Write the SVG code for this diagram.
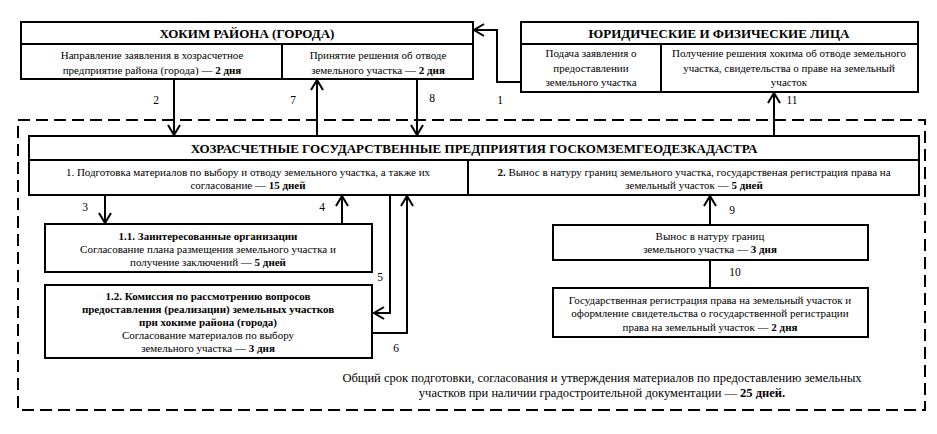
<svg xmlns="http://www.w3.org/2000/svg" width="937" height="434" viewBox="0 0 937 434">
<style>
text{font-family:"Liberation Serif","Times New Roman",serif;fill:#000;}
.h{font-size:13px;font-weight:bold;text-anchor:middle;}
.t{font-size:11px;text-anchor:middle;}
.n{font-size:11.5px;text-anchor:middle;}
.f{font-size:12.5px;text-anchor:middle;}
.b{font-weight:bold;}
.box{fill:#fff;stroke:#000;stroke-width:2;}
.ln{fill:none;stroke:#000;stroke-width:2;}
.c{fill:none;stroke:#000;stroke-width:2;}
</style>
<defs>
<marker id="a" markerUnits="userSpaceOnUse" markerWidth="14" markerHeight="14" viewBox="-12 -7 14 14" refX="0" refY="0" orient="auto">
<path d="M-10,-6 L0,0 L-10,6" fill="none" stroke="#000" stroke-width="2"/>
</marker>
</defs>
<rect width="937" height="434" fill="#fff"/>
<rect id="border" x="18" y="120" width="907" height="290" fill="none" stroke="#000" stroke-width="2" stroke-dasharray="12,6"/>
<g id="connectors">
<path class="c" d="M521,82 H497 V30 H474" marker-end="url(#a)"/>
<path class="c" d="M174,79 V135" marker-end="url(#a)"/>
<path class="c" d="M317,136 V80" marker-end="url(#a)"/>
<path class="c" d="M417,79 V135" marker-end="url(#a)"/>
<path class="c" d="M774,136 V93" marker-end="url(#a)"/>
<path class="c" d="M105,195 V223" marker-end="url(#a)"/>
<path class="c" d="M342,224 V196" marker-end="url(#a)"/>
<path class="c" d="M390,195 V313 H374" marker-end="url(#a)"/>
<path class="c" d="M373,333 H407 V196" marker-end="url(#a)"/>
<path class="c" d="M710,225 V196" marker-end="url(#a)"/>
<path class="c" d="M710,260 V288"/>
<text class="n" x="156" y="104">2</text>
<text class="n" x="293" y="104">7</text>
<text class="n" x="432" y="102">8</text>
<text class="n" x="500" y="104">1</text>
<text class="n" x="792" y="104">11</text>
<text class="n" x="85" y="211">3</text>
<text class="n" x="322" y="211">4</text>
<text class="n" x="380" y="281">5</text>
<text class="n" x="396" y="352">6</text>
<text class="n" x="732" y="214">9</text>
<text class="n" x="735" y="276">10</text>
</g>
<g id="hokim">
<rect class="box" x="21" y="22" width="452" height="57"/>
<line class="ln" x1="21" y1="44" x2="473" y2="44"/>
<line class="ln" x1="282" y1="44" x2="282" y2="79"/>
<text class="h" x="247" y="38">ХОКИМ РАЙОНА (ГОРОДА)</text>
<text class="t" x="152" y="59">Направление заявления в хозрасчетное</text>
<text class="t" x="152" y="74">предприятие района (города) — <tspan class="b">2 дня</tspan></text>
<text class="t" x="378" y="59">Принятие решения об отводе</text>
<text class="t" x="378" y="74">земельного участка — <tspan class="b">2 дня</tspan></text>
</g>
<g id="yur">
<rect class="box" x="521" y="22" width="397" height="70"/>
<line class="ln" x1="521" y1="44" x2="918" y2="44"/>
<line class="ln" x1="661" y1="44" x2="661" y2="92"/>
<text class="h" x="719" y="38">ЮРИДИЧЕСКИЕ И ФИЗИЧЕСКИЕ ЛИЦА</text>
<text class="t" x="591" y="57">Подача заявления о</text>
<text class="t" x="591" y="72">предоставлении</text>
<text class="t" x="591" y="86">земельного участка</text>
<text class="t" x="789" y="57">Получение решения хокима об отводе земельного</text>
<text class="t" x="789" y="72">участка, свидетельства о праве на земельный</text>
<text class="t" x="789" y="86">участок</text>
</g>
<g id="enterprise">
<rect class="box" x="29" y="136" width="890" height="59"/>
<line class="ln" x1="29" y1="160" x2="919" y2="160"/>
<line class="ln" x1="468" y1="160" x2="468" y2="195"/>
<text class="h" x="474" y="153">ХОЗРАСЧЕТНЫЕ ГОСУДАРСТВЕННЫЕ ПРЕДПРИЯТИЯ ГОСКОМЗЕМГЕОДЕЗКАДАСТРА</text>
<text class="t" x="248" y="176">1. Подготовка материалов по выбору и отводу земельного участка, а также их</text>
<text class="t" x="248" y="189">согласование — <tspan class="b">15 дней</tspan></text>
<text class="t" x="694" y="176"><tspan class="b">2.</tspan> Вынос в натуру границ земельного участка, государственая регистрация права на</text>
<text class="t" x="694" y="189">земельный участок — <tspan class="b">5 дней</tspan></text>
</g>
<g id="org11">
<rect class="box" x="45" y="224" width="327" height="48"/>
<text class="t b" x="208" y="240">1.1. Заинтересованные организации</text>
<text class="t" x="208" y="253">Согласование плана размещения земельного участка и</text>
<text class="t" x="208" y="266">получение заключений — <tspan class="b">5 дней</tspan></text>
</g>
<g id="org12">
<rect class="box" x="45" y="285" width="327" height="73"/>
<text class="t b" x="208" y="300">1.2. Комиссия по рассмотрению вопросов</text>
<text class="t b" x="208" y="313">предоставления (реализации) земельных участков</text>
<text class="t b" x="208" y="326">при хокиме района (города)</text>
<text class="t" x="208" y="339">Согласование материалов по выбору</text>
<text class="t" x="208" y="352">земельного участка — <tspan class="b">3 дня</tspan></text>
</g>
<g id="vynos">
<rect class="box" x="553" y="225" width="315" height="35"/>
<text class="t" x="710" y="240">Вынос в натуру границ</text>
<text class="t" x="710" y="253">земельного участка — <tspan class="b">3 дня</tspan></text>
</g>
<g id="gosreg">
<rect class="box" x="553" y="288" width="315" height="49"/>
<text class="t" x="710" y="304">Государственная регистрация права на земельный участок и</text>
<text class="t" x="710" y="317">оформление свидетельства о государственной регистрации</text>
<text class="t" x="710" y="331">права на земельный участок — <tspan class="b">2 дня</tspan></text>
</g>
<g id="footer">
<text class="f" x="602" y="382">Общий срок подготовки, согласования и утверждения материалов по предоставлению земельных</text>
<text class="f" x="602" y="397">участков при наличии градостроительной документации —  <tspan class="b">25 дней.</tspan></text>
</g>
</svg>
